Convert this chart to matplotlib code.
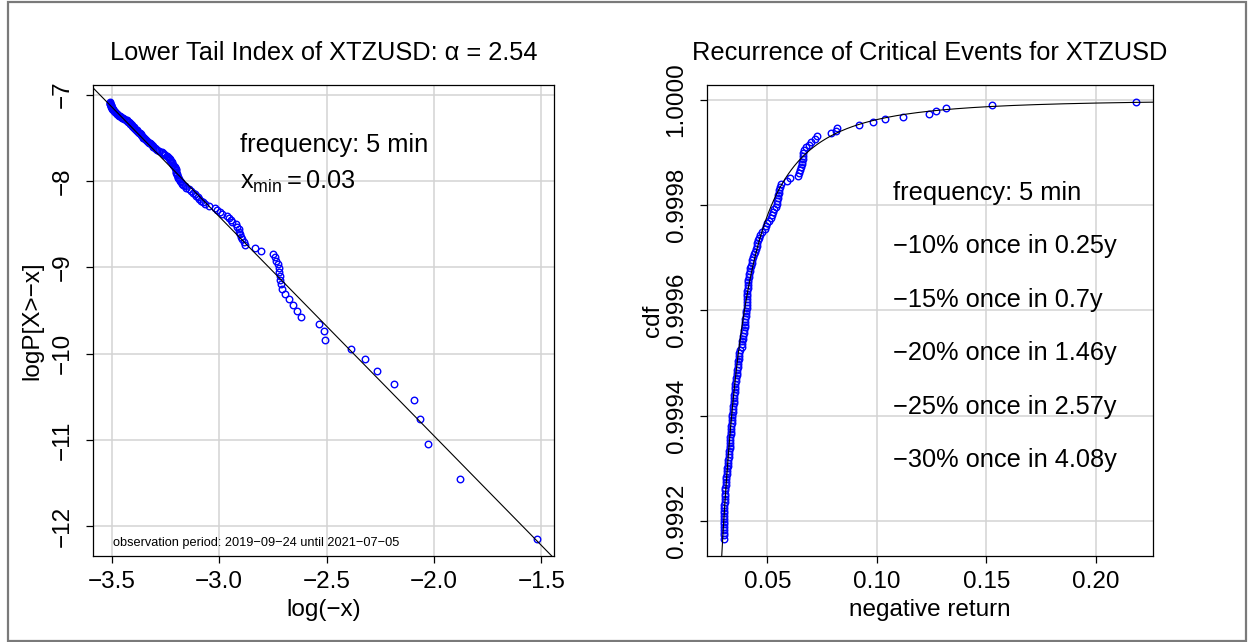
import numpy as np
import matplotlib
matplotlib.use("Agg")
import matplotlib.pyplot as plt
from matplotlib.patches import Rectangle

plt.rcParams['font.family'] = ['Liberation Sans', 'DejaVu Sans']
plt.rcParams['mathtext.fontset'] = 'custom'
plt.rcParams['mathtext.rm'] = 'Liberation Sans'
plt.rcParams['mathtext.it'] = 'Liberation Sans'
plt.rcParams['axes.unicode_minus'] = True

log_neg_ret = [
    -1.521, -1.881, -2.030, -2.064, -2.091, -2.188, -2.266, -2.319, -2.387, -2.506,
    -2.511, -2.537, -2.621, -2.635, -2.658, -2.675, -2.692, -2.707, -2.712, -2.715,
    -2.716, -2.720, -2.723, -2.728, -2.733, -2.740, -2.750, -2.805, -2.832, -2.878,
    -2.886, -2.891, -2.897, -2.902, -2.905, -2.908, -2.915, -2.922, -2.938, -2.946,
    -2.954, -2.965, -2.984, -2.997, -3.008, -3.020, -3.045, -3.066, -3.076, -3.084,
    -3.092, -3.100, -3.106, -3.114, -3.123, -3.132, -3.142, -3.152, -3.160, -3.167,
    -3.173, -3.179, -3.183, -3.186, -3.189, -3.192, -3.195, -3.197, -3.199, -3.200,
    -3.201, -3.202, -3.203, -3.205, -3.209, -3.213, -3.217, -3.221, -3.224, -3.226,
    -3.228, -3.232, -3.238, -3.244, -3.250, -3.255, -3.259, -3.265, -3.280, -3.290,
    -3.295, -3.300, -3.305, -3.309, -3.313, -3.317, -3.321, -3.326, -3.331, -3.336,
    -3.340, -3.344, -3.348, -3.352, -3.355, -3.358, -3.361, -3.365, -3.368, -3.372,
    -3.376, -3.380, -3.384, -3.388, -3.391, -3.394, -3.397, -3.401, -3.404, -3.407,
    -3.410, -3.413, -3.416, -3.419, -3.422, -3.426, -3.430, -3.435, -3.440, -3.445,
    -3.450, -3.455, -3.460, -3.465, -3.469, -3.473, -3.476, -3.479, -3.482, -3.485,
    -3.487, -3.489, -3.492, -3.494, -3.496, -3.498, -3.499, -3.501, -3.502, -3.503,
    -3.504, -3.505, -3.506, -3.507, -3.507, -3.507,
]
log_tail_prob = [
    -12.140, -11.447, -11.041, -10.754, -10.531, -10.348, -10.194, -10.061, -9.943, -9.837,
    -9.742, -9.655, -9.575, -9.501, -9.432, -9.367, -9.307, -9.250, -9.196, -9.144,
    -9.095, -9.049, -9.005, -8.962, -8.921, -8.882, -8.844, -8.808, -8.773, -8.739,
    -8.706, -8.674, -8.643, -8.614, -8.585, -8.556, -8.529, -8.502, -8.476, -8.451,
    -8.426, -8.402, -8.379, -8.356, -8.333, -8.311, -8.290, -8.269, -8.248, -8.228,
    -8.208, -8.189, -8.170, -8.151, -8.133, -8.115, -8.097, -8.080, -8.062, -8.046,
    -8.029, -8.013, -7.997, -7.981, -7.966, -7.950, -7.935, -7.920, -7.906, -7.892,
    -7.877, -7.863, -7.850, -7.836, -7.823, -7.809, -7.796, -7.783, -7.771, -7.758,
    -7.746, -7.733, -7.721, -7.709, -7.697, -7.686, -7.674, -7.663, -7.651, -7.640,
    -7.629, -7.618, -7.607, -7.597, -7.586, -7.576, -7.565, -7.555, -7.545, -7.535,
    -7.525, -7.515, -7.505, -7.496, -7.486, -7.477, -7.467, -7.458, -7.449, -7.440,
    -7.430, -7.422, -7.413, -7.404, -7.395, -7.386, -7.378, -7.369, -7.361, -7.353,
    -7.344, -7.336, -7.328, -7.320, -7.312, -7.304, -7.296, -7.288, -7.280, -7.272,
    -7.265, -7.257, -7.250, -7.242, -7.235, -7.227, -7.220, -7.213, -7.206, -7.198,
    -7.191, -7.184, -7.177, -7.170, -7.163, -7.156, -7.150, -7.143, -7.136, -7.129,
    -7.123, -7.116, -7.110, -7.103, -7.097, -7.090,
]

# fitted power law: log P = intercept - alpha * log(-x)
alpha = 2.54
intercept = -16.03

recurrence_lines = [
    'frequency: 5 min',
    '\u221210% once in 0.25y',
    '\u221215% once in 0.7y',
    '\u221220% once in 1.46y',
    '\u221225% once in 2.57y',
    '\u221230% once in 4.08y',
]

lx = np.array(log_neg_ret)
lp = np.array(log_tail_prob)
neg_ret = np.exp(lx)
cdf = 1 - np.exp(lp)

W, H = 1248, 642
fig = plt.figure(figsize=(W / 100, H / 100), dpi=100)
fig.patches.append(Rectangle((8 / W, 1 / H), 1238 / W, 639 / H, transform=fig.transFigure,
                             fill=False, edgecolor='#7a7a7a', linewidth=1.6))

ax1 = fig.add_axes([93 / W, 86 / H, 461 / W, 471 / H])
ax2 = fig.add_axes([707 / W, 86 / H, 446 / W, 471 / H])

fs = 17.5
tfs = 18.3
for ax in (ax1, ax2):
    for s in ax.spines.values():
        s.set_linewidth(0.9)
    ax.tick_params(length=5, width=0.9, labelsize=fs)
    ax.tick_params(axis='x', pad=6)
    ax.tick_params(axis='y', pad=9, labelrotation=90)

# left panel
ax1.plot(lx, lp, 'o', mfc='none', mec='blue', ms=4.7, mew=1.0, zorder=3)
ax1.margins(0.04)
ax1.set_xlim(ax1.get_xlim())
ax1.set_ylim(ax1.get_ylim())
ax1.axline((0, intercept), slope=-alpha, color='black', lw=0.8, zorder=4)
ax1.set_xticks([-3.5, -3.0, -2.5, -2.0, -1.5])
ax1.set_yticks([-7, -8, -9, -10, -11, -12])
ax1.set_xticklabels(['\u22123.5', '\u22123.0', '\u22122.5', '\u22122.0', '\u22121.5'])
ax1.set_yticklabels(['\u22127', '\u22128', '\u22129', '\u221210', '\u221211', '\u221212'],
                    rotation=90, va='center')
ax1.grid(True, color='#d3d3d3', lw=1.1, zorder=0)
ax1.set_axisbelow(True)
ax1.set_title('Lower Tail Index of XTZUSD: \u03b1 = 2.54', fontsize=tfs, pad=18)
ax1.set_xlabel('log(\u2212x)', fontsize=fs, labelpad=4)
ax1.set_ylabel('logP[X>\u2212x]', fontsize=fs, labelpad=6)
ax1.text(0.319, 0.873, 'frequency: 5 min', transform=ax1.transAxes, fontsize=tfs, va='center')
ax1.text(0.319, 0.794, r'$\mathrm{x}_{\mathrm{min}} = \mathrm{0.03}$', transform=ax1.transAxes,
         fontsize=tfs, va='center')
ax1.text(0.043, 0.028, 'observation period: 2019\u221209\u221224 until 2021\u221207\u221205',
         transform=ax1.transAxes, fontsize=9.2, va='center')

# right panel
ax2.plot(neg_ret, cdf, 'o', mfc='none', mec='blue', ms=4.7, mew=1.0, zorder=3)
ax2.margins(0.04)
ax2.set_xlim(ax2.get_xlim())
ax2.set_ylim(ax2.get_ylim())
xs = np.linspace(0.02, 0.24, 500)
ax2.plot(xs, 1 - np.exp(intercept) * xs ** (-alpha), color='black', lw=0.8, zorder=4)
ax2.set_xticks([0.05, 0.10, 0.15, 0.20])
ax2.set_xticklabels(['0.05', '0.10', '0.15', '0.20'])
ax2.set_yticks([0.9992, 0.9994, 0.9996, 0.9998, 1.0])
ax2.set_yticklabels(['0.9992', '0.9994', '0.9996', '0.9998', '1.0000'], rotation=90, va='center')
ax2.grid(True, color='#d3d3d3', lw=1.1, zorder=0)
ax2.set_axisbelow(True)
ax2.set_title('Recurrence of Critical Events for XTZUSD', fontsize=tfs, pad=18)
ax2.set_xlabel('negative return', fontsize=fs, labelpad=4)
ax2.set_ylabel('cdf', fontsize=fs, labelpad=1)
for i, t in enumerate(recurrence_lines):
    ax2.text(0.417, 0.771 - i * 0.1136, t, transform=ax2.transAxes, fontsize=tfs, va='center')

fig.savefig('out.png', dpi=100)
